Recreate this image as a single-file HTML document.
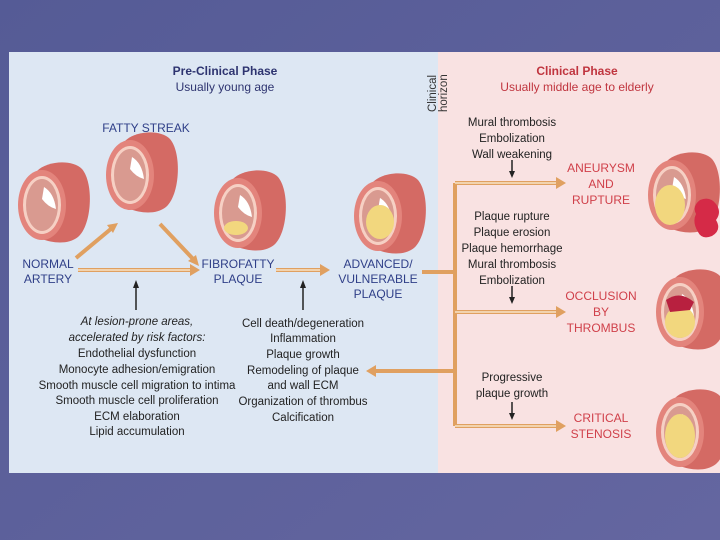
<!DOCTYPE html>
<html><head><style>
body{margin:0;width:720px;height:540px;overflow:hidden;background:#5c6199;font-family:"Liberation Sans",sans-serif;}
svg{display:block}
</style></head><body>
<svg width="720" height="540" viewBox="0 0 720 540" xmlns="http://www.w3.org/2000/svg" font-family="Liberation Sans, sans-serif">
<defs>
<linearGradient id="bg" x1="0" y1="0" x2="1" y2="1"><stop offset="0" stop-color="#555b96"/><stop offset="1" stop-color="#6466a0"/></linearGradient>
<g id="art">
  <path d="M-5,-34 C5,-44 30,-46 40,-36 C52,-22 50,20 36,32 C26,40 10,38 0,34 Z" fill="#d46a64"/>
  <ellipse cx="0" cy="0" rx="24" ry="35" fill="#e3847c"/>
  <ellipse cx="0" cy="0" rx="19" ry="29" fill="#f6d0c4"/>
  <ellipse cx="0" cy="0" rx="16" ry="26" fill="#d99a90"/>
  <path d="M2,-18 Q12,-12 14,4 Q6,2 0,-6 Z" fill="#fff"/>
</g>
</defs>
<rect width="720" height="540" fill="url(#bg)"/>
<rect x="9" y="52" width="429" height="421" fill="#dde7f3"/>
<rect x="438" y="52" width="282" height="421" fill="#f9e2e2"/>
<text x="225" y="75" font-size="12" font-weight="bold" fill="#2e3470" text-anchor="middle">Pre-Clinical Phase</text>
<text x="225" y="91" font-size="12" fill="#2e3470" text-anchor="middle">Usually young age</text>
<text x="577" y="75" font-size="12" font-weight="bold" fill="#c0353f" text-anchor="middle">Clinical Phase</text>
<text x="577" y="91" font-size="12" fill="#c0353f" text-anchor="middle">Usually middle age to elderly</text>
<text transform="translate(436,112) rotate(-90)" font-size="11.5" fill="#333">Clinical</text>
<text transform="translate(447,112) rotate(-90)" font-size="11.5" fill="#333">horizon</text>
<use href="#art" x="42" y="205"/>
<use href="#art" x="130" y="175"/>
<use href="#art" x="238" y="213"/>
<use href="#art" x="378" y="216"/>
<ellipse cx="380" cy="222" rx="14" ry="17" fill="#f2d77e"/>
<ellipse cx="236" cy="228" rx="12" ry="7" fill="#f2d77e"/>
<use href="#art" x="672" y="195"/>
<ellipse cx="670" cy="205" rx="15" ry="20" fill="#f2d77e"/>
<path d="M700,200 q10,-4 16,4 q6,8 0,16 q6,10 -4,16 q-10,4 -14,-4 q-6,-10 -2,-18 q-4,-8 4,-14z" fill="#d52a47"/>
<use href="#art" x="680" y="312"/>
<ellipse cx="680" cy="322" rx="15" ry="16" fill="#f2d77e"/>
<path d="M666,300 Q680,290 694,302 L690,310 L670,312 Z" fill="#b8203f"/>
<use href="#art" x="680" y="432"/>
<ellipse cx="680" cy="436" rx="15" ry="22" fill="#f2d77e"/>
<g font-size="12" fill="#2f3f88" text-anchor="middle">
<text x="146" y="132">FATTY STREAK</text>
<text x="48" y="268">NORMAL</text><text x="48" y="283">ARTERY</text>
<text x="238" y="268">FIBROFATTY</text><text x="238" y="283">PLAQUE</text>
<text x="378" y="268">ADVANCED/</text><text x="378" y="283">VULNERABLE</text><text x="378" y="298">PLAQUE</text>
</g>
<g font-size="12" fill="#d0404a" text-anchor="middle">
<text x="601" y="172">ANEURYSM</text><text x="601" y="188">AND</text><text x="601" y="204">RUPTURE</text>
<text x="601" y="300">OCCLUSION</text><text x="601" y="316">BY</text><text x="601" y="332">THROMBUS</text>
<text x="601" y="422">CRITICAL</text><text x="601" y="438">STENOSIS</text>
</g>
<g stroke="#e0a060" stroke-width="4" fill="none">
<path d="M78,270 H192"/><path d="M76,258 L112,228"/><path d="M160,224 L194,260"/>
<path d="M276,270 H322"/>
<path d="M422,272 H455 V426 M455,183 V272 M455,183 H560 M455,312 H560 M455,426 H560 M455,371 H372"/>
</g>
<g stroke="#f8e4c8" stroke-width="1.5" fill="none">
<path d="M78,270 H192"/><path d="M276,270 H322"/><path d="M455,183 H560 M455,312 H560 M455,426 H560"/>
</g>
<g fill="#e0a060">
<path d="M200,270 l-10,-6 v12z"/><path d="M330,270 l-10,-6 v12z"/>
<path d="M118,223 l-11,2 l6,8z"/><path d="M199,266 l-3,-11 l-8,6z"/>
<path d="M566,183 l-10,-6 v12z"/><path d="M566,312 l-10,-6 v12z"/><path d="M566,426 l-10,-6 v12z"/>
<path d="M366,371 l10,-6 v12z"/>
</g>
<g stroke="#222" stroke-width="1.5"><path d="M136,310 V286"/><path d="M303,310 V286"/><path d="M512,160 V172"/><path d="M512,286 V298"/><path d="M512,402 V414"/></g>
<g fill="#222"><path d="M136,280 l-3,8 h6z"/><path d="M303,280 l-3,8 h6z"/><path d="M512,178 l-3,-7 h6z"/><path d="M512,304 l-3,-7 h6z"/><path d="M512,420 l-3,-7 h6z"/></g>
<g font-size="11.5" fill="#222" text-anchor="middle">
<text x="137" y="325" font-style="italic">At lesion-prone areas,</text>
<text x="137" y="341" font-style="italic">accelerated by risk factors:</text>
<text x="137" y="357">Endothelial dysfunction</text>
<text x="137" y="373">Monocyte adhesion/emigration</text>
<text x="137" y="389">Smooth muscle cell migration to intima</text>
<text x="137" y="404">Smooth muscle cell proliferation</text>
<text x="137" y="420">ECM elaboration</text>
<text x="137" y="435">Lipid accumulation</text>
<text x="303" y="327">Cell death/degeneration</text>
<text x="303" y="342">Inflammation</text>
<text x="303" y="358">Plaque growth</text>
<text x="303" y="374">Remodeling of plaque</text>
<text x="303" y="389">and wall ECM</text>
<text x="303" y="405">Organization of thrombus</text>
<text x="303" y="421">Calcification</text>
<text x="512" y="126">Mural thrombosis</text>
<text x="512" y="142">Embolization</text>
<text x="512" y="158">Wall weakening</text>
<text x="512" y="220">Plaque rupture</text>
<text x="512" y="236">Plaque erosion</text>
<text x="512" y="252">Plaque hemorrhage</text>
<text x="512" y="268">Mural thrombosis</text>
<text x="512" y="284">Embolization</text>
<text x="512" y="381">Progressive</text>
<text x="512" y="397">plaque growth</text>
</g>
</svg>
</body></html>
